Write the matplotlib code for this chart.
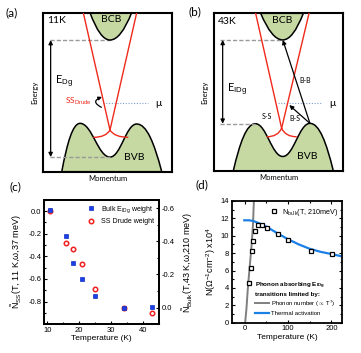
import matplotlib
matplotlib.use("Agg")
import matplotlib.pyplot as plt
from matplotlib.path import Path
from matplotlib.patches import PathPatch
from matplotlib.lines import Line2D
from matplotlib.ticker import MultipleLocator

W, H = 361, 353

# ---- panel (c): temperature dependence of spectral weights
temps_c = [11, 16, 18, 21, 25, 34, 43]
ss_drude = [-0.003, -0.286, -0.337, -0.472, -0.691, -0.859, -0.897]   # left axis
bulk_eidg = [-0.587, -0.431, -0.269, -0.170, -0.071, 0.0, -0.006]    # right axis

# ---- panel (d): bulk weight at 210 meV and the two model curves
temps_d = [9, 14, 17, 19, 23, 31, 40, 51, 77, 100, 153, 202]
n_bulk = [4.55, 6.35, 8.2, 9.35, 10.5, 11.25, 11.25, 10.95, 10.25, 9.55, 8.3, 7.95]
phonon_t = [1, 4, 7, 10, 13, 16, 19, 21.5]
phonon_n = [0.0, 1.6, 3.8, 5.6, 7.3, 9.0, 11.2, 14.5]
activ_t = [-1, 10, 20, 30, 40, 50, 75, 100, 125, 150, 175, 200, 225]
activ_n = [11.78, 11.78, 11.7, 11.5, 11.3, 11.05, 10.3, 9.6, 9.0, 8.5, 8.15, 7.9, 7.62]

# ---- panels (a), (b): band schematics, in box-normalised (momentum, energy)
# BCB: x at top-left, vertex x, x at top-right, vertex energy
a_bcb = [0.362, 0.517, 0.685, 0.828]
b_bcb = [0.361, 0.532, 0.691, 0.831]
# BVB: base, peak, valley, peak, base
a_bvb_x = [0.143, 0.285, 0.517, 0.724, 0.918]
a_bvb_y = [0.0, 0.304, 0.092, 0.300, 0.0]
b_bvb_x = [0.149, 0.320, 0.532, 0.742, 0.923]
b_bvb_y = [0.0, 0.300, 0.092, 0.302, 0.0]
# surface-state cone: top ends, Dirac point, lower ends
a_cone_top = [0.310, 0.724]
a_dirac = [0.517, 0.262]
a_cone_low = [0.388, 0.659, 0.216]
b_cone_top = [0.322, 0.735]
b_dirac = [0.523, 0.271]
b_cone_low = [0.408, 0.640, 0.217]
# gap marker: arrow x, lower energy, upper energy, left end of dashes, right end of lower dash
a_gap = [0.057, 0.092, 0.828, 0.052, 0.517]
b_gap = [0.067, 0.300, 0.831, 0.046, 0.322]
# chemical potential: energy, x start, x end
a_mu = [0.430, 0.463, 0.814]
b_mu = [0.429, 0.497, 0.838]
# transitions in (b): tail, B-B head, B-S head
b_tail = [0.742, 0.302]
b_bb_head = [0.532, 0.831]
b_bs_head = [0.582, 0.418]

GREEN = "#c6d9a2"
RED = "#ee2a1b"
SCHEM_FONT = ["Lato", "DejaVu Sans"]
PLOT_FONT = ["Liberation Sans", "DejaVu Sans"]

plt.rcParams["font.family"] = PLOT_FONT
plt.rcParams["mathtext.fontset"] = "custom"
plt.rcParams["mathtext.rm"] = "Liberation Sans"
plt.rcParams["mathtext.it"] = "Liberation Sans:italic"
plt.rcParams["mathtext.bf"] = "Liberation Sans:bold"


def px(x, y):
    return x / W, 1 - y / H


def bvb_path(xs, ys):
    verts = [(xs[0], ys[0])]
    codes = [Path.MOVETO]
    n = len(xs)
    for i in range(n - 1):
        x0, y0, x1, y1 = xs[i], ys[i], xs[i + 1], ys[i + 1]
        dx = x1 - x0
        if i == 0:
            c1 = (x0 + 0.3 * dx, y0 + 0.6 * (y1 - y0))
        else:
            c1 = (x0 + 0.4 * dx, y0)
        if i == n - 2:
            c2 = (x1 - 0.3 * dx, y1 + 0.6 * (y0 - y1))
        else:
            c2 = (x1 - 0.4 * dx, y1)
        verts += [c1, c2, (x1, y1)]
        codes += [Path.CURVE4] * 3
    verts += [(xs[0], ys[0])]
    codes += [Path.CLOSEPOLY]
    return Path(verts, codes)


def bcb_path(bcb):
    xl, xv, xr, yv = bcb
    verts = [(xl, 1.0), ((xl + xv) / 2, yv), (xv, yv), ((xv + xr) / 2, yv), (xr, 1.0), (xl, 1.0)]
    codes = [Path.MOVETO, Path.CURVE3, Path.CURVE3, Path.CURVE3, Path.CURVE3, Path.CLOSEPOLY]
    return Path(verts, codes)


def arrow(ax, head, tail, style="-|>", lw=0.9, scale=6):
    ax.annotate("", xy=head, xytext=tail,
                arrowprops=dict(arrowstyle=style, color="black", lw=lw,
                                mutation_scale=scale, shrinkA=0, shrinkB=0))


def draw_schematic(ax, bcb, bvb_x, bvb_y, cone_top, dirac, cone_low, gap, mu):
    ax.set_xlim(0, 1)
    ax.set_ylim(0, 1)
    ax.set_xticks([])
    ax.set_yticks([])
    for sp in ax.spines.values():
        sp.set_linewidth(1.5)

    ax.add_patch(PathPatch(bcb_path(bcb), facecolor=GREEN, edgecolor="black", lw=1.1, zorder=2))
    ax.add_patch(PathPatch(bvb_path(bvb_x, bvb_y), facecolor=GREEN, edgecolor="black", lw=1.1, zorder=2))

    xd, yd = dirac
    for xt in cone_top:
        ax.plot([xt, xd], [1.0, yd], color=RED, lw=1.0, zorder=3)
    for xe in cone_low[:2]:
        ye = cone_low[2]
        arm = Path([(xd, yd), (xd + 0.25 * (xe - xd), ye), (xe, ye)],
                   [Path.MOVETO, Path.CURVE3, Path.CURVE3])
        ax.add_patch(PathPatch(arm, facecolor="none", edgecolor=RED, lw=1.0, zorder=3))

    xa, ylo, yhi, xdash, xlow_end = gap
    ax.plot([xdash, bcb[1]], [yhi, yhi], color="#9a9a9a", lw=1.0, ls=(0, (3, 1.5)), zorder=1)
    ax.plot([xdash, xlow_end], [ylo, ylo], color="#9a9a9a", lw=1.0, ls=(0, (3, 1.5)), zorder=4)
    arrow(ax, (xa, yhi), (xa, ylo), style="<|-|>", lw=0.9, scale=6)

    ax.plot([mu[1], mu[2]], [mu[0], mu[0]], color="#7f9fc8", lw=0.8, ls=(0, (1, 1.5)), zorder=1)
    ax.text(mu[2] + 0.05, mu[0], "μ", fontsize=7.5, ha="left", va="center", family=SCHEM_FONT)
    ax.text((bcb[0] + bcb[2]) / 2 + 0.005, 0.955, "BCB", fontsize=7.5, ha="center", va="center",
            family=SCHEM_FONT)
    ax.text(bvb_x[3] - 0.02, 0.092, "BVB", fontsize=7.5, ha="center", va="center", family=SCHEM_FONT)
    ax.text(-0.07, 0.5, "Energy", rotation=90, fontsize=5.5, ha="center", va="center",
            family=SCHEM_FONT, transform=ax.transAxes)
    ax.text(0.5, -0.04, "Momentum", fontsize=5.5, ha="center", va="center",
            family=SCHEM_FONT, transform=ax.transAxes)


def style_axes(ax):
    for sp in ax.spines.values():
        sp.set_linewidth(1.3)
    ax.tick_params(which="both", direction="in", labelsize=5.5, pad=2, width=0.8)
    ax.tick_params(which="major", length=2.5)
    ax.tick_params(which="minor", length=1.5)


def plot_weights(fig):
    ax = fig.add_axes([44 / W, 1 - 324.3 / H, 115.3 / W, 124.6 / H])
    ax2 = ax.twinx()
    ax.plot(temps_c, ss_drude, "o", ms=3.2, mfc="none", mec="#f02020", mew=1.1, zorder=3)
    ax2.plot(temps_c, bulk_eidg, "s", ms=2.8, mfc="#1a3ee8", mec="#1030c0", mew=0.5, zorder=3)
    ax.set_xlim(9, 45.2)
    ax.set_ylim(-1.0, 0.1)
    ax2.set_ylim(0.1, -0.65)
    ax.set_xticks([10, 20, 30, 40])
    ax.xaxis.set_minor_locator(MultipleLocator(5))
    ax.set_yticks([-0.8, -0.6, -0.4, -0.2, 0.0])
    ax.yaxis.set_minor_locator(MultipleLocator(0.1))
    ax2.set_yticks([-0.6, -0.4, -0.2, 0.0])
    ax2.yaxis.set_minor_locator(MultipleLocator(0.1))
    for a in (ax, ax2):
        style_axes(a)
    ax.yaxis.set_major_formatter(matplotlib.ticker.FormatStrFormatter("%.1f"))
    ax2.yaxis.set_major_formatter(matplotlib.ticker.FormatStrFormatter("%.1f"))
    ax.set_xlabel("Temperature (K)", fontsize=6, labelpad=1)
    ax.set_ylabel(r"$\tilde{\mathrm{N}}_{\mathrm{SS}}$(T, 11 K,ω,37 meV)", fontsize=6.5, labelpad=3)
    ax2.set_ylabel(r"$\tilde{\mathrm{N}}_{\mathrm{Bulk}}$(T,43 K,ω,210 meV)", fontsize=6.5, labelpad=4)
    handles = [
        Line2D([], [], ls="none", marker="s", ms=2.8, mfc="#1a3ee8", mec="#1030c0", mew=0.5),
        Line2D([], [], ls="none", marker="o", ms=3.2, mfc="none", mec="#f02020", mew=1.1),
    ]
    ax2.legend(handles, [r"Bulk E$_{\mathrm{IDg}}$ weight", "SS Drude weight"], loc="upper right",
               bbox_to_anchor=(1.0, 1.01), frameon=False, fontsize=5, handlelength=1.2,
               handletextpad=0.8, labelspacing=0.5, borderpad=0.3)


def plot_bulk(fig):
    ax = fig.add_axes([231.7 / W, 1 - 322.7 / H, 110.6 / W, 121.7 / H])
    ax.plot(phonon_t, phonon_n, color="#7f7f7f", lw=1.4, zorder=2)
    ax.plot(activ_t, activ_n, color="#1a80e6", lw=1.6, zorder=2)
    ax.plot(temps_d, n_bulk, "s", ms=2.8, mfc="white", mec="black", mew=0.9, zorder=3)
    ax.set_xlim(-30, 225)
    ax.set_ylim(0, 14)
    ax.set_xticks([0, 100, 200])
    ax.xaxis.set_minor_locator(MultipleLocator(50))
    ax.set_yticks(range(0, 15, 2))
    ax.yaxis.set_minor_locator(MultipleLocator(1))
    style_axes(ax)
    ax.tick_params(which="both", right=True, top=True)
    ax.set_xlabel("Temperature (K)", fontsize=6, labelpad=1)
    ax.set_ylabel(r"N($\Omega^{-1}$cm$^{-2}$) x10$^{4}$", fontsize=6.5, labelpad=2)

    pts = Line2D([], [], ls="none", marker="s", ms=2.8, mfc="white", mec="black", mew=0.9)
    leg1 = ax.legend([pts], [r"N$_{\mathrm{bulk}}$(T, 210meV)"], loc="upper right",
                     bbox_to_anchor=(1.02, 1.0), frameon=False, fontsize=5.2, handlelength=1.0,
                     handletextpad=0.6, borderpad=0.3)
    ax.add_artist(leg1)
    lines = [Line2D([], [], color="#7f7f7f", lw=1.4), Line2D([], [], color="#1a80e6", lw=1.6)]
    leg2 = ax.legend(lines, [r"Phonon number ($\propto$ T$^{7}$)", "Thermal activation"],
                     loc="upper left", bbox_to_anchor=(0.17, 0.38), frameon=False, fontsize=4.3,
                     handlelength=2.4, handletextpad=0.3, labelspacing=0.3, borderpad=0.2,
                     title="Phonon absorbing E$_{\\mathbf{IDg}}$\ntransitions limited by:",
                     title_fontproperties={"size": 4.5, "weight": "bold"})
    leg2._legend_box.align = "left"


def main():
    fig = plt.figure(figsize=(W / 100, H / 100), dpi=100)

    ax_a = fig.add_axes([43.3 / W, 1 - 171.7 / H, 129 / W, 159 / H])
    draw_schematic(ax_a, a_bcb, a_bvb_x, a_bvb_y, a_cone_top, a_dirac, a_cone_low, a_gap, a_mu)
    ax_a.text(0.03, 0.948, "11K", fontsize=7.5, ha="left", va="center", family=SCHEM_FONT)
    ax_a.text(0.09, 0.566, r"E$_{\mathrm{Dg}}$", fontsize=8, ha="left", va="center",
              family=SCHEM_FONT)
    ax_a.text(0.375, 0.44, r"SS$_{\mathrm{Drude}}$", fontsize=6, ha="right", va="center",
              color=RED, family=SCHEM_FONT)
    ax_a.annotate("", xy=(0.455, 0.47), xytext=(0.45, 0.405),
                  arrowprops=dict(arrowstyle="-|>", color="black", lw=0.9, mutation_scale=5,
                                  shrinkA=0, shrinkB=0, connectionstyle="arc3,rad=-1.1"))

    ax_b = fig.add_axes([214 / W, 1 - 171 / H, 129.3 / W, 157.7 / H])
    draw_schematic(ax_b, b_bcb, b_bvb_x, b_bvb_y, b_cone_top, b_dirac, b_cone_low, b_gap, b_mu)
    ax_b.text(0.03, 0.948, "43K", fontsize=7.5, ha="left", va="center", family=SCHEM_FONT)
    ax_b.text(0.098, 0.514, r"E$_{\mathrm{IDg}}$", fontsize=8, ha="left", va="center",
              family=SCHEM_FONT)
    arrow(ax_b, b_bb_head, b_tail, lw=0.9, scale=6)
    arrow(ax_b, b_bs_head, b_tail, lw=0.9, scale=6)
    ax_b.text(0.708, 0.573, "B-B", fontsize=5, ha="center", va="center", family=SCHEM_FONT)
    ax_b.text(0.627, 0.334, "B-S", fontsize=5, ha="center", va="center", family=SCHEM_FONT)
    ax_b.text(0.408, 0.344, "S-S", fontsize=5, ha="center", va="center", family=SCHEM_FONT)

    for label, (x, y) in [("(a)", (12, 13)), ("(b)", (195, 12)), ("(c)", (15, 187)), ("(d)", (202, 185))]:
        fig.text(*px(x, y), label, fontsize=8.5, ha="center", va="center", family=SCHEM_FONT)

    plot_weights(fig)
    plot_bulk(fig)

    fig.savefig("out.png", dpi=100)
    plt.close(fig)


if __name__ == "__main__":
    main()
